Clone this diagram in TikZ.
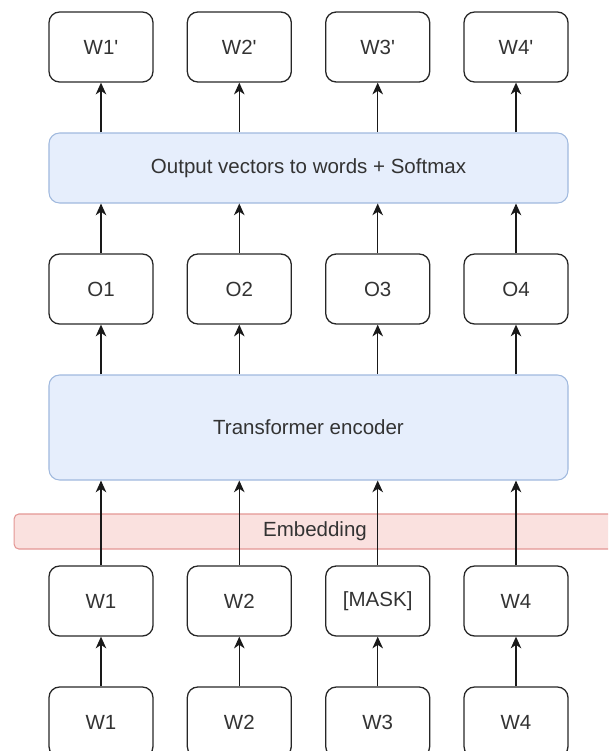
\documentclass[tikz,border=0pt]{standalone}
\usepackage{fontspec}
\setmainfont{Liberation Sans}[Ligatures=TeXOff]
\usepackage{xcolor}
\definecolor{txtgray}{RGB}{51,51,51}
\definecolor{encfill}{RGB}{230,238,252}
\definecolor{encdraw}{RGB}{160,185,222}
\definecolor{embfill}{RGB}{250,225,223}
\definecolor{embdraw}{RGB}{228,150,148}
\usetikzlibrary{arrows.meta,positioning,calc}

\begin{document}
\begin{tikzpicture}[x=0.03cm, y=-0.03cm,
  wbox/.style={rectangle, rounded corners=9pt, draw=black!85, line width=1.1pt,
               minimum width=3.12cm, minimum height=2.1cm, inner sep=0pt,
               font=\fontsize{17.5}{20}\selectfont, text=txtgray},
  lbox/.style={rectangle, rounded corners=9pt, draw=encdraw, fill=encfill, line width=0.9pt,
               minimum width=15.57cm, inner sep=0pt,
               font=\fontsize{17.5}{20}\selectfont, text=txtgray},
  ebox/.style={rectangle, rounded corners=4pt, draw=embdraw, fill=embfill, line width=0.9pt,
               minimum width=18.05cm, minimum height=1.05cm, inner sep=0pt,
               font=\fontsize{17.5}{20}\selectfont, text=txtgray},
  arr/.style={-{Stealth[length=10pt, width=9pt, inset=3pt]}, line width=1.1pt, draw=black!90}
]
\clip (0,0) rectangle (608,751);

% Predicted words
\node[wbox] (p1) at (101,47) {W1'};
\node[wbox] (p2) at (239.3,47) {W2'};
\node[wbox] (p3) at (377.7,47) {W3'};
\node[wbox] (p4) at (516,47) {W4'};

% Softmax layer
\node[lbox, minimum height=2.1cm] (soft) at (308.5,168) {Output vectors to words + Softmax};

% Output vectors
\node[wbox] (o1) at (101,289) {O1};
\node[wbox] (o2) at (239.3,289) {O2};
\node[wbox] (o3) at (377.7,289) {O3};
\node[wbox] (o4) at (516,289) {O4};

% Encoder and embedding
\node[lbox, minimum height=3.15cm] (enc) at (308.5,427.5) {Transformer encoder};
\node[ebox] (emb) at (315,531.5) {Embedding};

% Masked input
\node[wbox] (m1) at (101,601) {W1};
\node[wbox] (m2) at (239.3,601) {W2};
\node[wbox] (m3) at (377.7,601) {[MASK]};
\node[wbox] (m4) at (516,601) {W4};

% Original input
\node[wbox] (w1) at (101,722) {W1};
\node[wbox] (w2) at (239.3,722) {W2};
\node[wbox] (w3) at (377.7,722) {W3};
\node[wbox] (w4) at (516,722) {W4};

% Arrows
\draw[arr] (w1.north) -- (m1.south);
\draw[arr] (w2.north) -- (m2.south);
\draw[arr] (w3.north) -- (m3.south);
\draw[arr] (w4.north) -- (m4.south);
\draw[arr] (m1.north) -- (m1 |- enc.south);
\draw[arr] (m2.north) -- (m2 |- enc.south);
\draw[arr] (m3.north) -- (m3 |- enc.south);
\draw[arr] (m4.north) -- (m4 |- enc.south);
\draw[arr] (o1 |- enc.north) -- (o1.south);
\draw[arr] (o2 |- enc.north) -- (o2.south);
\draw[arr] (o3 |- enc.north) -- (o3.south);
\draw[arr] (o4 |- enc.north) -- (o4.south);
\draw[arr] (o1.north) -- (o1 |- soft.south);
\draw[arr] (o2.north) -- (o2 |- soft.south);
\draw[arr] (o3.north) -- (o3 |- soft.south);
\draw[arr] (o4.north) -- (o4 |- soft.south);
\draw[arr] (p1 |- soft.north) -- (p1.south);
\draw[arr] (p2 |- soft.north) -- (p2.south);
\draw[arr] (p3 |- soft.north) -- (p3.south);
\draw[arr] (p4 |- soft.north) -- (p4.south);
\end{tikzpicture}
\end{document}
